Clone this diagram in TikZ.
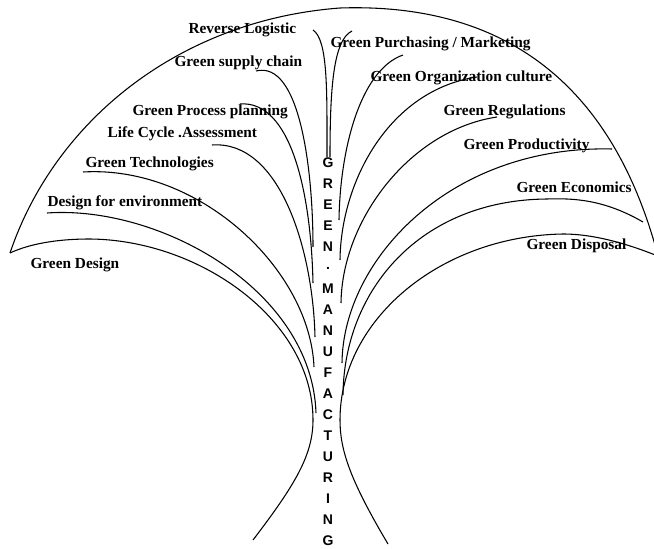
\documentclass[tikz,border=0pt]{standalone}
\usepackage{fontspec}
\setmainfont{Liberation Serif}
\newfontfamily\trunkfont{Liberation Sans}
\usetikzlibrary{positioning,calc}

\begin{document}
\begin{tikzpicture}[thick,x=0.75pt,y=-0.75pt,
  branchlbl/.style={anchor=west,inner sep=0pt,font=\fontsize{11.5}{13}\selectfont\bfseries},
  letter/.style={inner sep=0pt,font=\trunkfont\fontsize{10.5}{12}\selectfont\bfseries}]
\useasboundingbox (0,0) rectangle (654,549);
\def\trunkx{328}
\def\letterstep{21}
\begin{scope}
\clip (0,0) rectangle (654,549);
\coordinate (leftfoot) at (253,540);
\coordinate (rightfoot) at (388,544);
\coordinate (lefttip) at (10,253);
\coordinate (righttip) at (672,262);
\draw (leftfoot) .. controls (295,485) and (313,455) .. (313,420)
  .. controls (313,320) and (200,240) .. (90,239)
  .. controls (50,239) and (25,246) .. (lefttip);
\draw (lefttip) .. controls (55,120) and (180,20) .. (340,8)
  .. controls (520,2) and (630,100) .. (668,300);
\draw (rightfoot) .. controls (350,480) and (340,450) .. (340,420)
  .. controls (340,320) and (440,236) .. (563,234)
  .. controls (600,234) and (640,248) .. (righttip);
\draw (313,30) .. controls (328,40) and (327,90) .. (327,157);
\draw (352,31) .. controls (333,40) and (330,90) .. (330,157);
\draw (256,71) .. controls (300,60) and (313,170) .. (313,247);
\draw (240,104) .. controls (290,100) and (311,190) .. (313,283);
\draw (212,145) .. controls (280,140) and (313,250) .. (315,337);
\draw (83,172) .. controls (200,165) and (310,270) .. (314,367);
\draw (47,213) .. controls (160,205) and (312,290) .. (316,413);
\draw (403,55) .. controls (360,70) and (340,150) .. (339,220);
\draw (477,77) .. controls (390,90) and (341,180) .. (340,260);
\draw (497,117) .. controls (410,130) and (342,220) .. (341,303);
\draw (612,149) .. controls (450,145) and (343,260) .. (342,363);
\draw (643,222) .. controls (605,200) and (575,198) .. (547,199)
  .. controls (420,200) and (344,290) .. (343,395);
\end{scope}
\node[branchlbl] (revlog) at (188,30) {Reverse Logistic};
\node[branchlbl] (supply) at (174,63) {Green supply chain};
\node[branchlbl] (process) at (132,112) {Green Process planning};
\node[branchlbl] (lca) at (107,134) {Life Cycle .Assessment};
\node[branchlbl] (tech) at (85,164) {Green Technologies};
\node[branchlbl] (dfe) at (47,203) {Design for environment};
\node[branchlbl] (design) at (30,265) {Green Design};
\node[branchlbl] (purch) at (330,44) {Green Purchasing / Marketing};
\node[branchlbl] (org) at (370,78) {Green Organization culture};
\node[branchlbl] (regul) at (443,112) {Green Regulations};
\node[branchlbl] (prod) at (463,146) {Green Productivity};
\node[branchlbl] (econ) at (516,187) {Green Economics};
\node[branchlbl] (disp) at (526,246) {Green Disposal};
\foreach \c [count=\i] in {G,R,E,E,N,.,M,A,N,U,F,A,C,T,U,R,I,N,G}
  \node[letter] (gm\i) at (\trunkx,163+\letterstep*\i-\letterstep) {\c};
\end{tikzpicture}
\end{document}
